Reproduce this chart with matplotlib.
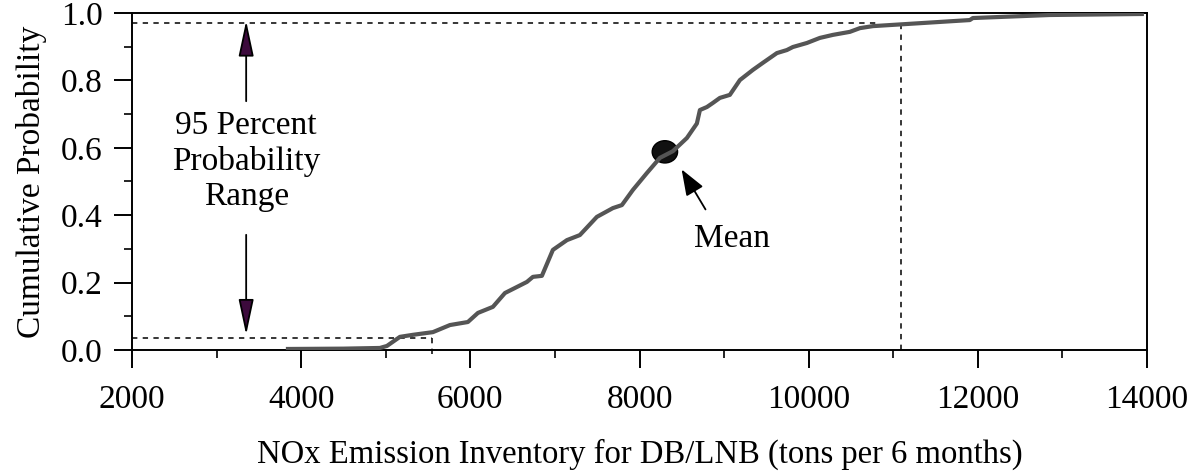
"""Cumulative probability of NOx emission inventory for DB/LNB."""

import matplotlib

matplotlib.use("Agg")
import matplotlib.pyplot as plt
from matplotlib.patches import Ellipse

plt.rcParams["font.family"] = ["Liberation Serif", "DejaVu Serif"]

# --- Data ---
NOX_TONS = [
    3844, 4500, 4931, 5014, 5168, 5321, 5558, 5759, 5971, 6090, 6267, 6409,
    6551, 6669, 6740, 6846, 6976, 7142, 7295, 7496, 7685, 7792, 7922, 8087,
    8241, 8395, 8560, 8678, 8714, 8797, 8867, 8950, 9068, 9187, 9340, 9458,
    9624, 9742, 9813, 9979, 10132, 10286, 10487, 10605, 10759, 11078, 11905,
    11941, 12851, 13938,
]
CUM_PROB = [
    0.003, 0.004, 0.006, 0.012, 0.039, 0.045, 0.053, 0.074, 0.083, 0.110,
    0.128, 0.169, 0.187, 0.202, 0.217, 0.220, 0.297, 0.326, 0.341, 0.395,
    0.421, 0.430, 0.475, 0.525, 0.570, 0.590, 0.629, 0.672, 0.712, 0.721,
    0.733, 0.748, 0.757, 0.801, 0.831, 0.852, 0.881, 0.890, 0.899, 0.911,
    0.926, 0.935, 0.944, 0.955, 0.961, 0.966, 0.979, 0.985, 0.994, 0.997,
]

MEAN_X, MEAN_P = 8300, 0.588
UPPER_X, UPPER_P = 11090, 0.970
LOWER_X, LOWER_P = 5550, 0.037
RANGE_ARROW_X = 3350

fig = plt.figure(figsize=(11.9, 4.72), dpi=100)
ax = fig.add_axes([0.1109, 0.2585, 0.853, 0.714])

DASH = (0, (3.5, 3.5))
ax.plot([2000, 10800], [UPPER_P, UPPER_P], color="black", lw=1.1, ls=DASH)
ax.plot([UPPER_X, UPPER_X], [0, 0.965], color="black", lw=1.1, ls=DASH)
ax.plot([2000, LOWER_X], [LOWER_P, LOWER_P], color="black", lw=1.1, ls=DASH)
ax.plot([LOWER_X, LOWER_X], [-0.012, LOWER_P], color="black", lw=1.1,
        ls=DASH, clip_on=False)

ax.add_patch(Ellipse((MEAN_X, MEAN_P), 300, 0.066, facecolor="#111111",
                     edgecolor="black", lw=1, zorder=3))
ax.plot(NOX_TONS, CUM_PROB, color="#555555", lw=3.0, zorder=4,
        solid_joinstyle="round")

head = "-|>,head_length=2.2,head_width=0.47"
ax.annotate("", xy=(RANGE_ARROW_X, 0.985), xytext=(RANGE_ARROW_X, 0.73),
            arrowprops=dict(arrowstyle=head, mutation_scale=10, lw=1.3,
                            facecolor="#3c0a3c", edgecolor="black"))
ax.annotate("", xy=(RANGE_ARROW_X, LOWER_P), xytext=(RANGE_ARROW_X, 0.35),
            arrowprops=dict(arrowstyle=head, mutation_scale=10, lw=1.3,
                            facecolor="#3c0a3c", edgecolor="black"))
ax.text(RANGE_ARROW_X, 0.56, "95 Percent\nProbability\nRange", ha="center",
        va="center", fontsize=24, linespacing=1.22)

ax.annotate("", xy=(8481, 0.543), xytext=(8797, 0.41),
            arrowprops=dict(arrowstyle="-|>,head_length=1.6,head_width=0.6",
                            mutation_scale=10, lw=1.3, color="black"))
ax.text(9093, 0.33, "Mean", ha="center", va="center", fontsize=24)

ax.set_xlim(2000, 14000)
ax.set_ylim(0, 1.0)
ax.set_xticks(range(2000, 14001, 2000))
ax.set_xticks(range(3000, 14000, 2000), minor=True)
ax.set_yticks([0.0, 0.2, 0.4, 0.6, 0.8, 1.0])
ax.set_yticks([0.1, 0.3, 0.5, 0.7, 0.9], minor=True)
ax.set_yticklabels(["0.0", "0.2", "0.4", "0.6", "0.8", "1.0"])

ax.tick_params(which="major", direction="out", length=13, width=1.4,
               labelsize=24)
ax.tick_params(which="minor", direction="out", length=6, width=1.2)
ax.tick_params(axis="x", which="major", pad=12)
ax.tick_params(axis="y", which="major", pad=8)
for spine in ax.spines.values():
    spine.set_linewidth(1.4)

ax.set_xlabel("NOx Emission Inventory for DB/LNB (tons per 6 months)",
              fontsize=23.5, labelpad=17)
ax.set_ylabel("Cumulative Probability", fontsize=24, labelpad=10)

fig.savefig("out.png", dpi=100)
